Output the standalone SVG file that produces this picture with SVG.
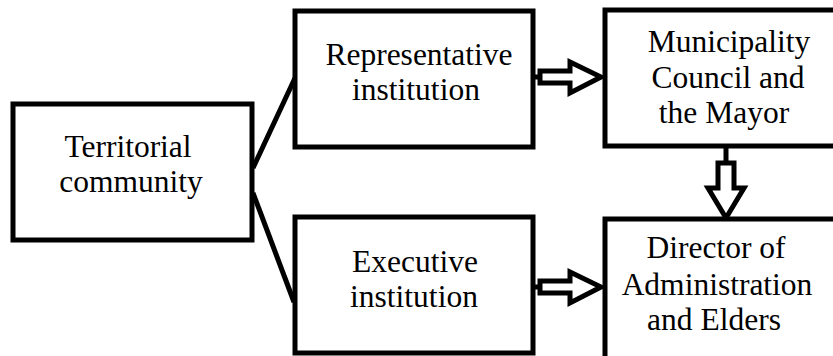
<svg xmlns="http://www.w3.org/2000/svg" width="833" height="356" viewBox="0 0 833 356">
  <style>
    .box { fill: #ffffff; stroke: #000000; stroke-width: 5; }
    .lbl { font-family: "Liberation Serif", "Times New Roman", serif; font-size: 31.5px; fill: #000000; text-anchor: middle; }
    .link { fill: none; stroke: #000000; stroke-width: 5; }
    .blk { fill: #ffffff; stroke: #000000; stroke-width: 5; stroke-linejoin: miter; }
  </style>
  <rect width="833" height="356" fill="#ffffff"/>

  <g id="connectors">
    <path class="link" d="M253,168 L295,78"/>
    <path class="link" d="M253,193 L294,302"/>
    <!-- hollow block arrows -->
    <path class="link" d="M533,77 H541"/>
    <path class="blk" d="M540,71 H570 V62 L601,77 L570,93 V83 H540 Z"/>
    <path class="link" d="M533,287 H541"/>
    <path class="blk" d="M540,281 H570 V272 L601,287 L570,303 V293 H540 Z"/>
    <path class="link" d="M726,146 V164"/>
    <path class="blk" d="M718,163 V188 H708 L726,218 L744,188 H734 V163 Z"/>
  </g>

  <g id="territorial-community">
    <rect class="box" x="13" y="104" width="239" height="136"/>
    <text class="lbl" x="128" y="157">Territorial</text>
    <text class="lbl" x="131" y="192">community</text>
  </g>

  <g id="representative-institution">
    <rect class="box" x="295" y="11" width="238" height="136"/>
    <text class="lbl" x="419" y="65">Representative</text>
    <text class="lbl" x="416" y="100">institution</text>
  </g>

  <g id="executive-institution">
    <rect class="box" x="295" y="217" width="238" height="136"/>
    <text class="lbl" x="415" y="272">Executive</text>
    <text class="lbl" x="414" y="307">institution</text>
  </g>

  <g id="municipality-council">
    <rect class="box" x="605" y="10" width="245" height="136"/>
    <text class="lbl" x="729" y="52">Municipality</text>
    <text class="lbl" x="728" y="88">Council and</text>
    <text class="lbl" x="724" y="123">the Mayor</text>
  </g>

  <g id="director-administration">
    <rect class="box" x="605" y="219" width="245" height="140"/>
    <text class="lbl" x="716" y="258">Director of</text>
    <text class="lbl" x="717" y="295">Administration</text>
    <text class="lbl" x="714" y="330">and Elders</text>
  </g>
</svg>
